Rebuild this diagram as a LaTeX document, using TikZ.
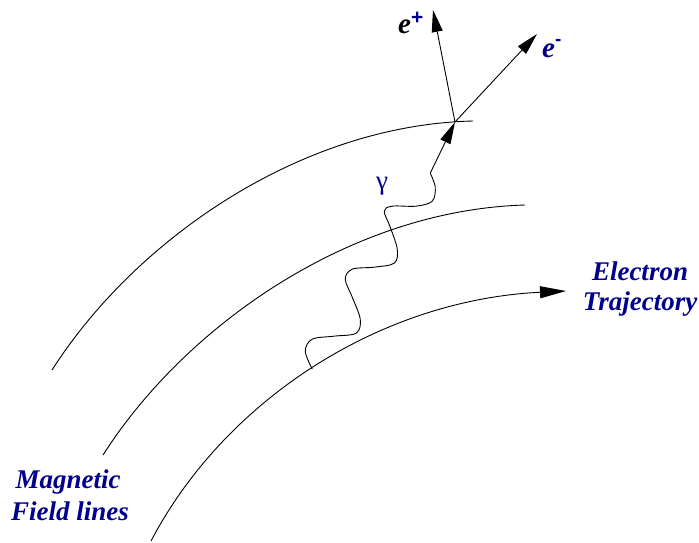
\documentclass[tikz,border=0pt]{standalone}
\usepackage{fontspec}
\setmainfont{Liberation Serif}
\newfontfamily\hv{Liberation Sans}
\usetikzlibrary{arrows.meta}
\definecolor{navy}{RGB}{0,0,140}
\begin{document}
\begin{tikzpicture}[x=1pt,y=-1pt,
  fline/.style={line width=0.9pt, black},
  tip/.style={-{Triangle[length=22pt,width=11pt]}},
  lbl/.style={font=\fontsize{27}{30}\selectfont\bfseries\itshape, text=navy, inner sep=0pt, anchor=base},
  elbl/.style={font=\fontsize{29}{30}\selectfont\bfseries\itshape, inner sep=0pt, anchor=base west}]
\useasboundingbox (0,0) rectangle (699,542);
% field lines
\draw[fline] (52,370) .. controls (135,240) and (300,125) .. (473,121);
\draw[fline] (103,455) .. controls (186,325) and (351,210) .. (525,205);
% electron trajectory
\draw[fline,-{Triangle[length=26pt,width=12pt]}] (151,541) .. controls (225,400) and (380,300) .. (566,291) coordinate[pos=0.49] (ps);
% vertex and end points
\coordinate (v) at (455,122);
\coordinate (pe) at (433,10);
\coordinate (me) at (537,34);
% photon
\begin{scope}[shift={(ps)}]
\draw[fline] plot[smooth,tension=0.55] coordinates {(0,0) (-7,-18) (0,-30) (22,-33) (44,-36) (48,-50) (40,-72) (33,-90) (40,-100) (62,-102) (82,-106) (85,-120) (78,-142) (72,-158) (80,-163) (104,-163) (120,-168) (123,-182) (118,-196)};
\coordinate (we) at (118,-196);
\end{scope}
\draw[fline,tip] (we) -- (v);
\draw[fline,tip] (v) -- (pe);
\draw[fline,tip] (v) -- (me);
% labels
\node[elbl] (eplus) at (398,33) {e\raisebox{9pt}{\fontsize{21}{21}\selectfont\hv\bfseries\upshape\color{navy}+}};
\node[elbl, text=navy] (eminus) at (542,57) {e\raisebox{12pt}{\fontsize{19}{19}\selectfont\hv\bfseries\upshape -}};
\node[font=\fontsize{27}{27}\selectfont, text=navy, inner sep=0pt, anchor=base] (gam) at (382,189) {γ};
\node[lbl] (el) at (640,280) {Electron};
\node[lbl] (tr) at (640,310) {Trajectory};
\node[lbl] (mg) at (68,488) {Magnetic};
\node[lbl] (fd) at (70,520) {Field lines};
\end{tikzpicture}
\end{document}
